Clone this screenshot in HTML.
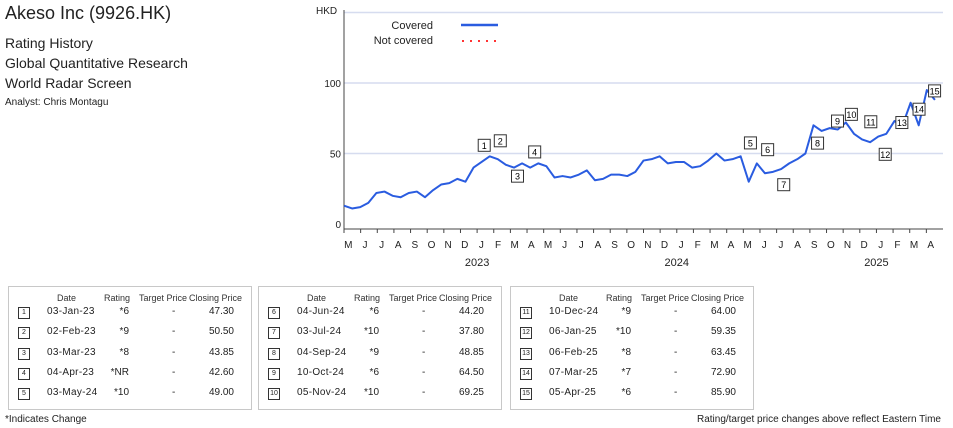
<!DOCTYPE html>
<html><head><meta charset="utf-8"><style>
body{margin:0;width:953px;height:428px;background:#fff;font-family:"Liberation Sans",sans-serif;color:#222;position:relative;overflow:hidden}
.t{position:absolute;white-space:nowrap}
.box{position:absolute;top:286px;height:124px;border:1px solid #c8c8c8;box-sizing:border-box}
.h{position:absolute;top:6px;font-size:9px;color:#333}
.r{position:absolute;font-size:10px;height:12px;line-height:12px}
.n{position:absolute;width:10px;height:10px;border:1px solid #333;font-size:7px;line-height:10px;text-align:center}
</style></head><body>
<div class="t" style="left:5px;top:3px;font-size:18px">Akeso Inc (9926.HK)</div>
<div class="t" style="left:5px;top:35px;font-size:14px">Rating History</div>
<div class="t" style="left:5px;top:55px;font-size:14px">Global Quantitative Research</div>
<div class="t" style="left:5px;top:75px;font-size:14px">World Radar Screen</div>
<div class="t" style="left:5px;top:97px;font-size:10px">Analyst: Chris Montagu</div>

<svg id="chart" width="953" height="280" style="position:absolute;left:0;top:0" font-family="Liberation Sans, sans-serif"></svg>

<div id="tables"></div>
<div class="t" style="left:5px;top:414px;font-size:10px">*Indicates Change</div>
<div class="t" style="right:12px;top:414px;font-size:10px">Rating/target price changes above reflect Eastern Time</div>

<script>
// price series: two points per month starting May 2022
const prices=[13,11,12,15,22,23,20,19,22,23,19,24,28,29,32,30,40,44,48,46,42,40,43,40,43,41,33,34,33,35,38,31,32,35,35,34,37,45,46,48,43,44,44,40,41,45,50,45,46,48,30,43,36,37,39,43,46,50,70,66,68,67,72,64,60,58,62,64,73,70,86,70,95,88];
const yTicks=[0,50,100];
const monthLabels=["M","J","J","A","S","O","N","D","J","F","M","A","M","J","J","A","S","O","N","D","J","F","M","A","M","J","J","A","S","O","N","D","J","F","M","A"];
const yearLabels=["2023","2024","2025"];
const yearMonthIdx=[8,20,32];
// events: month index since May-2022, day, closing price
const evMonth=[8,9,10,11,24,25,26,28,29,30,31,32,33,34,35];
const evDay=[3,2,3,4,3,4,3,4,10,5,10,6,6,7,5];
const evPrice=[47.30,50.50,43.85,42.60,49.00,44.20,37.80,48.85,64.50,69.25,64.00,59.35,63.45,72.90,85.90];
const evRating=["*6","*9","*8","*NR","*10","*6","*10","*9","*6","*10","*9","*10","*8","*7","*6"];
const evDate=["03-Jan-23","02-Feb-23","03-Mar-23","04-Apr-23","03-May-24","04-Jun-24","03-Jul-24","04-Sep-24","10-Oct-24","05-Nov-24","10-Dec-24","06-Jan-25","06-Feb-25","07-Mar-25","05-Apr-25"];
const evBelow=[0,0,1,0,0,0,1,0,0,0,0,1,0,0,0];

const X0=344,X1=943,MW=(X1-X0)/36,Y0=224,PPU=1.41;
const xm=m=>X0+m*MW, y=v=>Y0-v*PPU;
const NS="http://www.w3.org/2000/svg", svg=document.getElementById('chart');
function mk(t,a){const e=document.createElementNS(NS,t);for(const k in a)e.setAttribute(k,a[k]);svg.appendChild(e);return e;}
// gridlines
[...yTicks.slice(1),150].forEach(v=>{const l=mk('line',{x1:X0,x2:X1,y1:y(v),y2:y(v),stroke:'#d6dcef','stroke-width':1.5});

});
yTicks.forEach(v=>{const t=mk('text',{x:X0-3,y:y(v)+4,'text-anchor':'end','font-size':10,fill:'#222'});t.textContent=v;

});
const hk=mk('text',{x:316,y:14,'font-size':10,fill:'#222'});hk.textContent='HKD';


const ax=mk('line',{x1:X0,x2:X0,y1:10,y2:Y0+5,stroke:'#444'});


const bx=mk('line',{x1:X0,x2:X1,y1:Y0+5,y2:Y0+5,stroke:'#444'});


monthLabels.forEach((m,i)=>{mk('line',{x1:xm(i),x2:xm(i),y1:Y0+5,y2:Y0+9,stroke:'#444'});
const t=mk('text',{x:xm(i)+MW/2-4,y:Y0+24,'text-anchor':'middle','font-size':10,fill:'#222'});t.textContent=m;

});
yearLabels.forEach((yl,i)=>{const t=mk('text',{x:xm(yearMonthIdx[i]),y:Y0+42,'text-anchor':'middle','font-size':11,fill:'#222'});t.textContent=yl;

});
// line
const pts=prices.map((p,i)=>xm(i*36/prices.length)+','+y(p)).join(' ');
const pl=mk('polyline',{points:pts,fill:'none',stroke:'#2a5ce0','stroke-width':2,'stroke-linejoin':'round'});


// legend
const l1=mk('text',{x:433,y:29,'text-anchor':'end','font-size':11,fill:'#222'});l1.textContent='Covered';


mk('line',{x1:461,x2:498,y1:25,y2:25,stroke:'#2a5ce0','stroke-width':2.5});
const l2=mk('text',{x:433,y:44,'text-anchor':'end','font-size':11,fill:'#222'});l2.textContent='Not covered';


mk('line',{x1:462,x2:498,y1:41,y2:41,stroke:'#f33','stroke-width':2,'stroke-dasharray':'2,6'});
// markers
evPrice.forEach((p,i)=>{const cx=xm(evMonth[i]+(evDay[i]-1)/30)+6, cy=y(p)+(evBelow[i]?14:-12);
const g=document.createElementNS(NS,'g');svg.appendChild(g);


const r=document.createElementNS(NS,'rect');r.setAttribute('x',cx-6);r.setAttribute('y',cy-6);r.setAttribute('width',12);r.setAttribute('height',12);r.setAttribute('fill','#fff');r.setAttribute('stroke','#333');g.appendChild(r);
const t=document.createElementNS(NS,'text');t.setAttribute('x',cx);t.setAttribute('y',cy+3.5);t.setAttribute('text-anchor','middle');t.setAttribute('font-size',9);t.textContent=i+1;g.appendChild(t);});
// tables
const tb=document.getElementById('tables');
[8,258,510].forEach((left,b)=>{const d=document.createElement('div');d.className='box';d.style.left=left+'px';d.style.width='244px';


d.innerHTML='<div class="h" style="left:48px">Date</div><div class="h" style="left:95px">Rating</div><div class="h" style="left:130px">Target Price</div><div class="h" style="left:180px">Closing Price</div>';
for(let k=0;k<5;k++){const i=b*5+k,top=19+k*20.3;
const row=document.createElement('div');


row.innerHTML=`<div class="n" style="left:9px;top:${top+1}px">${i+1}</div><div class="r" style="left:38px;top:${top}px;letter-spacing:0.3px">${evDate[i]}</div><div class="r" style="left:90px;width:30px;text-align:right;top:${top}px">${evRating[i]}</div><div class="r" style="left:163px;top:${top}px">-</div><div class="r" style="left:180px;width:45px;text-align:right;top:${top}px">${evPrice[i].toFixed(2)}</div>`;
d.appendChild(row);}
tb.appendChild(d);});
</script>
</body></html>
